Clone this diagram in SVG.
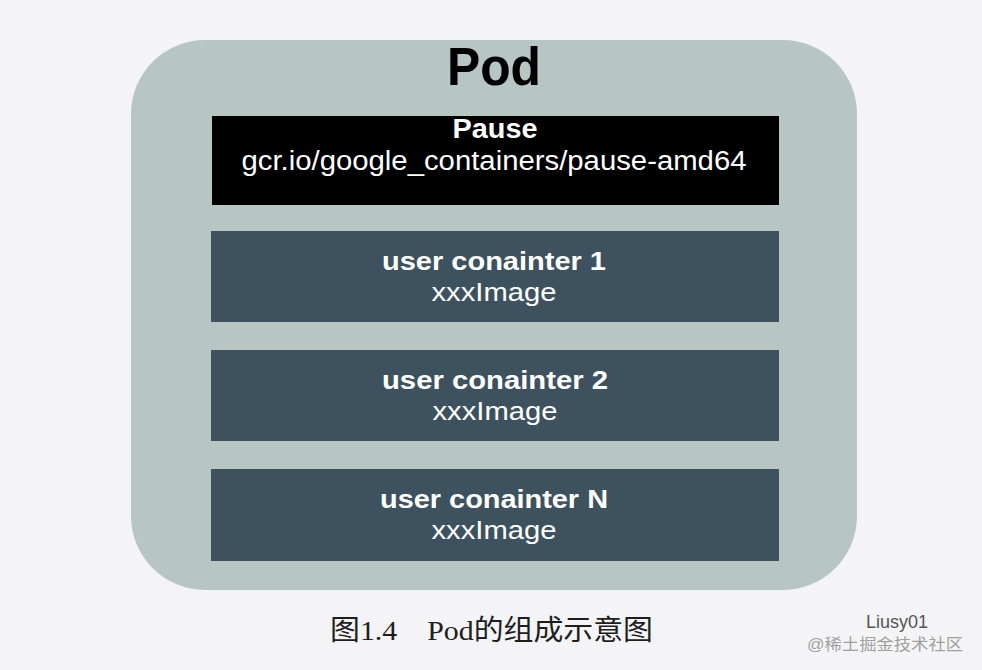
<svg xmlns="http://www.w3.org/2000/svg" width="982" height="670" viewBox="0 0 982 670">
<style>
.bg{fill:#f4f4f6}
.pod{fill:#b8c6c3}
.pause{fill:#000}
.uc{fill:#3d525e}
.t{font-family:"Liberation Sans",Arial,sans-serif;text-anchor:middle;fill:#fff}
.b{font-weight:bold}
.cap{font-family:"Liberation Serif","Noto Sans CJK SC",serif;fill:#1e1e1e;font-size:28px}
.wm{font-family:"Liberation Sans","Noto Sans CJK SC",sans-serif;fill:#a0a0a0;font-size:16px}
</style>
<rect class="bg" x="0" y="0" width="982" height="670"/>
<g id="pod">
<rect class="pod" x="131" y="40" width="726" height="550" rx="74" ry="74"/>
<text class="t b" x="494" y="85" font-size="53" style="fill:#000" textLength="94" lengthAdjust="spacingAndGlyphs">Pod</text>
</g>
<g id="pause">
<rect class="pause" x="212" y="116" width="567" height="89"/>
<text class="t b" x="495" y="138" font-size="27" textLength="85" lengthAdjust="spacingAndGlyphs">Pause</text>
<text class="t" x="494" y="170" font-size="27" textLength="505" lengthAdjust="spacingAndGlyphs">gcr.io/google_containers/pause-amd64</text>
</g>
<g id="uc1">
<rect class="uc" x="211" y="231" width="568" height="91"/>
<text class="t b" x="494" y="270" font-size="26" textLength="224" lengthAdjust="spacingAndGlyphs">user conainter 1</text>
<text class="t" x="494" y="301" font-size="26" textLength="125" lengthAdjust="spacingAndGlyphs">xxxImage</text>
</g>
<g id="uc2">
<rect class="uc" x="211" y="350" width="568" height="91"/>
<text class="t b" x="495" y="389" font-size="26" textLength="226" lengthAdjust="spacingAndGlyphs">user conainter 2</text>
<text class="t" x="495" y="420" font-size="26" textLength="125" lengthAdjust="spacingAndGlyphs">xxxImage</text>
</g>
<g id="ucN">
<rect class="uc" x="211" y="469" width="568" height="92"/>
<text class="t b" x="494" y="508" font-size="26" textLength="228" lengthAdjust="spacingAndGlyphs">user conainter N</text>
<text class="t" x="494" y="539" font-size="26" textLength="125" lengthAdjust="spacingAndGlyphs">xxxImage</text>
</g>
<g id="caption">
<text class="cap" x="330" y="640" textLength="323" lengthAdjust="spacingAndGlyphs">图1.4　Pod的组成示意图</text>
</g>
<g id="watermark">
<text class="wm" x="866" y="628" style="font-size:18px;fill:#555">Liusy01</text>
<text class="wm" x="807" y="650" textLength="156" lengthAdjust="spacingAndGlyphs">@稀土掘金技术社区</text>
</g>
<g id="connectors"/>
</svg>
